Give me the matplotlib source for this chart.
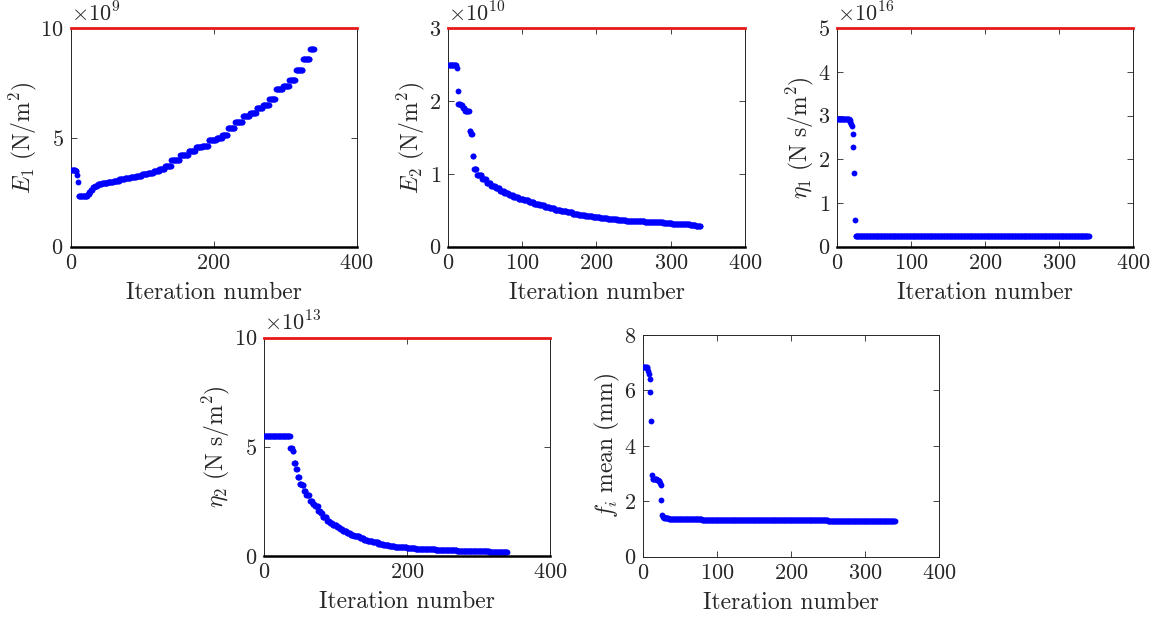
import numpy as np
import matplotlib
matplotlib.use('Agg')
import matplotlib.pyplot as plt

plt.rcParams['font.family'] = 'serif'
plt.rcParams['font.serif'] = ['cmr10']
plt.rcParams['mathtext.fontset'] = 'cm'
plt.rcParams['axes.formatter.use_mathtext'] = True

# iterations run 1..340, values held as plateaus (start iteration, value)
n_iter = 340

e1_start = [1, 7, 9, 10, 11, 24, 26, 28, 31, 34, 38, 44, 52, 60, 68, 76, 84, 92, 100,
            108, 116, 124, 132, 141, 153, 165, 175, 184, 193, 204, 212, 220, 230, 241,
            251, 260, 269, 278, 287, 297, 306, 315, 325, 335]
e1_val = [3.52, 3.45, 3.29, 2.95, 2.33, 2.40, 2.50, 2.62, 2.72, 2.80, 2.86, 2.92, 2.98,
          3.03, 3.08, 3.14, 3.20, 3.26, 3.32, 3.38, 3.45, 3.55, 3.70, 3.95, 4.18, 4.40,
          4.55, 4.62, 4.88, 5.00, 5.11, 5.42, 5.73, 5.98, 6.10, 6.34, 6.49, 6.75, 7.20,
          7.36, 7.63, 8.09, 8.58, 9.04]

e2_start = [1, 12, 13, 14, 17, 20, 23, 29, 31, 33, 35, 39, 46, 52, 58, 64, 70, 76, 82,
            88, 95, 102, 109, 116, 123, 130, 137, 144, 152, 160, 168, 176, 185, 195, 205,
            215, 228, 240, 252, 265, 278, 290, 302, 314, 326, 334]
e2_val = [2.49, 2.46, 2.14, 1.96, 1.94, 1.91, 1.86, 1.59, 1.55, 1.25, 1.07, 0.99, 0.93,
          0.87, 0.83, 0.80, 0.77, 0.74, 0.71, 0.685, 0.66, 0.635, 0.61, 0.59, 0.57, 0.55,
          0.53, 0.51, 0.495, 0.475, 0.455, 0.44, 0.42, 0.405, 0.39, 0.38, 0.37, 0.36,
          0.35, 0.34, 0.333, 0.325, 0.317, 0.31, 0.30, 0.29]

eta1_start = [1, 17, 18, 19, 20, 21, 22, 23, 24, 25]
eta1_val = [2.92, 2.90, 2.86, 2.80, 2.76, 2.59, 2.29, 1.69, 0.62, 0.25]

eta2_start = [1, 37, 40, 42, 45, 47, 50, 53, 56, 59, 64, 68, 71, 76, 79, 82, 88, 92, 96,
              102, 106, 110, 116, 121, 126, 134, 140, 145, 152, 160, 167, 175, 183, 191,
              200, 212, 225, 240, 255, 270, 285, 300, 315, 330]
eta2_val = [5.51, 4.95, 4.80, 4.25, 4.00, 3.60, 3.30, 3.25, 2.98, 2.78, 2.50, 2.40, 2.28,
            2.05, 1.95, 1.78, 1.62, 1.50, 1.40, 1.32, 1.22, 1.13, 1.05, 0.98, 0.90, 0.82,
            0.75, 0.68, 0.62, 0.57, 0.52, 0.47, 0.43, 0.40, 0.37, 0.34, 0.31, 0.29, 0.27,
            0.25, 0.23, 0.21, 0.19, 0.17]

f_start = [1, 6, 7, 8, 9, 10, 11, 12, 13, 19, 21, 23, 24, 25, 26, 27, 29, 35, 50, 80,
           120, 160, 200, 250, 300]
f_val = [6.86, 6.81, 6.72, 6.60, 6.40, 5.93, 4.91, 2.96, 2.80, 2.77, 2.73, 2.65, 2.59,
         2.05, 1.50, 1.42, 1.38, 1.36, 1.35, 1.34, 1.33, 1.32, 1.31, 1.30, 1.29]


def steps(starts, vals):
    counts = np.diff(starts + [n_iter + 1])
    return np.repeat(vals, counts)


it = np.arange(1, n_iter + 1)

panels = [
    # position, data, ylabel, yticks, xticks, upper bound, exponent
    ([0.0612, 0.6027, 0.2476, 0.3517], steps(e1_start, e1_val),
     r'$E_1\ (\mathrm{N/m^2})$', [0, 5, 10], [0, 200, 400], 10, 9),
    ([0.3879, 0.6027, 0.2571, 0.3517], steps(e2_start, e2_val),
     r'$E_2\ (\mathrm{N/m^2})$', [0, 1, 2, 3], [0, 100, 200, 300, 400], 3, 10),
    ([0.7247, 0.6027, 0.2563, 0.3517], steps(eta1_start, eta1_val),
     r'$\eta_1\ (\mathrm{N\ s/m^2})$', [0, 1, 2, 3, 4, 5], [0, 100, 200, 300, 400], 5, 16),
    ([0.2286, 0.1047, 0.2476, 0.3515], steps(eta2_start, eta2_val),
     r'$\eta_2\ (\mathrm{N\ s/m^2})$', [0, 5, 10], [0, 200, 400], 10, 13),
    ([0.5567, 0.1035, 0.2563, 0.3570], steps(f_start, f_val),
     r'$f_i\ \mathrm{mean\ (mm)}$', [0, 2, 4, 6, 8], [0, 100, 200, 300, 400], None, None),
]

fig = plt.figure(figsize=(11.55, 6.21), dpi=100)
grey = '#262626'

for pos, y, ylab, yt, xt, ub, expo in panels:
    ax = fig.add_axes(pos)
    ax.plot(it, y, 'o', color='b', ms=4.2, mec='none', zorder=3)
    ymax = ub if ub is not None else yt[-1]
    if ub is not None:
        ax.axhline(ub, color=(0.9, 0.1, 0.1), lw=2.0, zorder=4, clip_on=False)
        ax.axhline(0, color='k', lw=1.8, zorder=4, clip_on=False)
    ax.set_xlim(0, 400)
    ax.set_ylim(0, ymax)
    ax.set_xticks(xt)
    ax.set_yticks(yt)
    ax.tick_params(direction='in', length=4, width=0.6, top=True, right=True,
                   labelsize=16, colors=grey, pad=5)
    for s in ax.spines.values():
        s.set_linewidth(0.7)
        s.set_color(grey)
    ax.set_xlabel('Iteration number', fontsize=17, color=grey, labelpad=6)
    ax.set_ylabel(ylab, fontsize=17, color=grey, labelpad=1)
    if expo is not None:
        ax.text(0.0, 1.015, r'$\times10^{%d}$' % expo, transform=ax.transAxes,
                fontsize=16, color=grey, ha='left', va='bottom')

fig.savefig('out.png', dpi=100)
